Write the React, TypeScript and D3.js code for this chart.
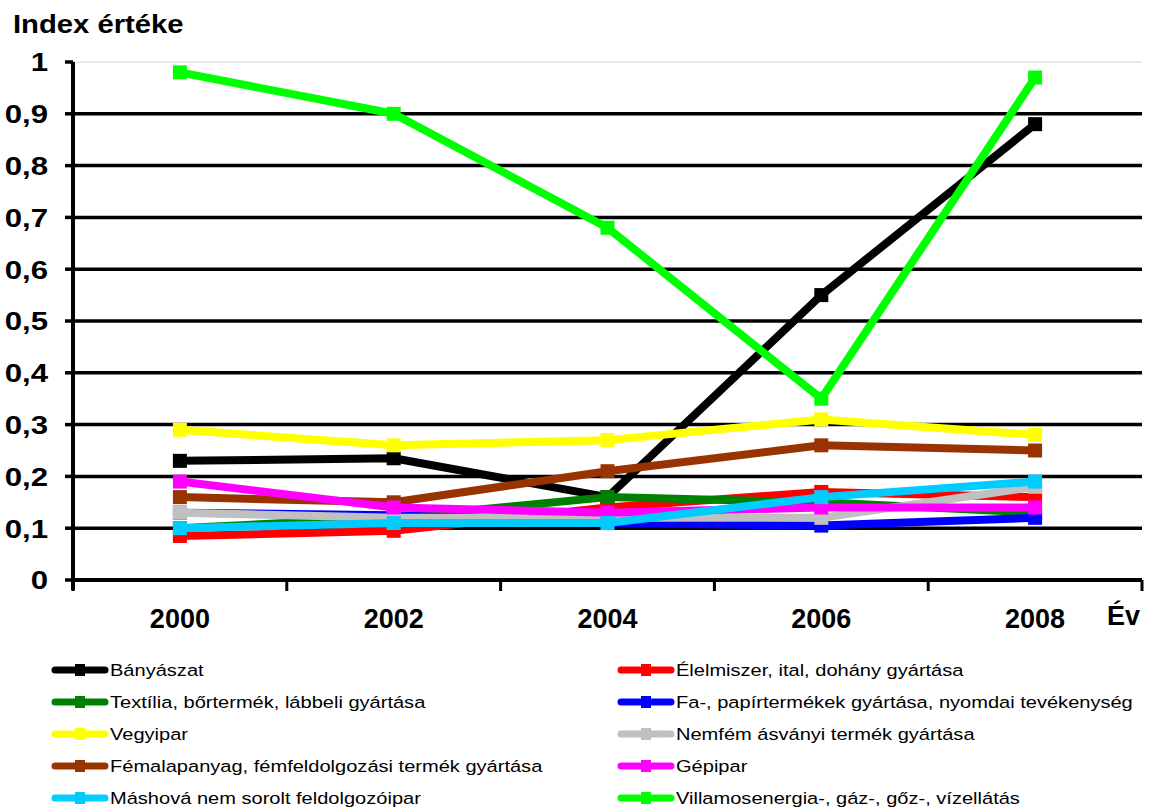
import React from "react";
import * as d3 from "d3";

const years = ["2000", "2002", "2004", "2006", "2008"];
const yTicks = [0, 0.1, 0.2, 0.3, 0.4, 0.5, 0.6, 0.7, 0.8, 0.9, 1];

const seriesNames = [
  "Bányászat",
  "Élelmiszer, ital, dohány gyártása",
  "Textília, bőrtermék, lábbeli gyártása",
  "Fa-, papírtermékek gyártása, nyomdai tevékenység",
  "Vegyipar",
  "Nemfém ásványi termék gyártása",
  "Fémalapanyag, fémfeldolgozási termék gyártása",
  "Gépipar",
  "Máshová nem sorolt feldolgozóipar",
  "Villamosenergia-, gáz-, gőz-, vízellátás",
];
const seriesColors = [
  "#000000", "#ff0000", "#008000", "#0000ff", "#ffff00",
  "#c0c0c0", "#993300", "#ff00ff", "#00ccff", "#00ff00",
];

const banyaszat = [0.23, 0.235, 0.16, 0.55, 0.88];
const elelmiszer = [0.085, 0.095, 0.14, 0.17, 0.16];
const textil = [0.1, 0.12, 0.16, 0.15, 0.13];
const fa = [0.13, 0.125, 0.11, 0.105, 0.12];
const vegyipar = [0.29, 0.26, 0.27, 0.31, 0.28];
const nemfem = [0.13, 0.12, 0.12, 0.12, 0.18];
const femalap = [0.16, 0.15, 0.21, 0.26, 0.25];
const gepipar = [0.19, 0.14, 0.13, 0.14, 0.14];
const mashova = [0.1, 0.11, 0.11, 0.16, 0.19];
const villamos = [0.98, 0.9, 0.68, 0.35, 0.97];

const seriesValues = [banyaszat, elelmiszer, textil, fa, vegyipar, nemfem, femalap, gepipar, mashova, villamos];

const W = 1155;
const H = 807;
const left = 73;
const right = 1142;
const top = 62;
const bottom = 580;
const FONT = "'Liberation Sans', Arial, sans-serif";

export default function App() {
  const x = d3.scaleBand<string>().domain(years).range([left, right]).padding(0);
  const y = d3.scaleLinear().domain([0, 1]).range([bottom, top]);
  const cx = (yr: string) => (x(yr) as number) + x.bandwidth() / 2;
  const line = d3
    .line<number>()
    .x((_, i) => cx(years[i]))
    .y((d) => y(d));

  const tickXs = [...years.map((yr) => x(yr) as number), right];

  return (
    <svg
      width={W}
      height={H}
      style={{ position: "absolute", left: 0, top: 0, background: "#fff" }}
      fontFamily={FONT}
    >
      <rect x={0} y={0} width={W} height={H} fill="#fff" />
      {/* gridlines */}
      {yTicks.map((t) =>
        t === 0 ? null : (
          <line
            key={"g" + t}
            x1={left}
            x2={right}
            y1={y(t)}
            y2={y(t)}
            stroke={t === 1 ? "#d4d4d4" : "#000"}
            strokeWidth={t === 1 ? 1 : 3.5}
          />
        )
      )}
      {/* y axis */}
      <line x1={left} x2={left} y1={top} y2={bottom + 10} stroke="#000" strokeWidth={4} />
      {yTicks.map((t) => (
        <g key={"yt" + t}>
          <line x1={left - 8} x2={left} y1={y(t)} y2={y(t)} stroke="#000" strokeWidth={3.5} />
          <text
            transform={`translate(48,${y(t)}) scale(1.2,1)`}
            dy="0.36em"
            textAnchor="end"
            fontSize={26}
            fontWeight="bold"
          >
            {String(t).replace(".", ",")}
          </text>
        </g>
      ))}
      {/* x axis */}
      <line x1={left} x2={right} y1={bottom} y2={bottom} stroke="#000" strokeWidth={4} />
      {tickXs.map((tx, i) => (
        <line key={"xt" + i} x1={tx} x2={tx} y1={bottom} y2={bottom + 11} stroke="#000" strokeWidth={3} />
      ))}
      {years.map((yr) => (
        <text
          key={"xl" + yr}
          x={cx(yr)}
          y={628}
          textAnchor="middle"
          fontSize={27}
          fontWeight="bold"
        >
          {yr}
        </text>
      ))}
      <text x={1107} y={625} fontSize={27} fontWeight="bold">
        Év
      </text>
      <text transform="translate(13,33) scale(1.17,1)" fontSize={25} fontWeight="bold">
        Index értéke
      </text>

      {/* series */}
      {seriesValues.map((vals, si) => (
        <g key={"s" + si}>
          <path
            d={line(vals) || ""}
            fill="none"
            stroke={seriesColors[si]}
            strokeWidth={8}
            strokeLinejoin="round"
          />
          {vals.map((v, i) => (
            <rect
              key={i}
              x={cx(years[i]) - 7}
              y={y(v) - 7}
              width={14}
              height={14}
              fill={seriesColors[si]}
            />
          ))}
        </g>
      ))}

      {/* legend */}
      {seriesNames.map((name, i) => {
        const col = i % 2;
        const row = Math.floor(i / 2);
        const lx = col === 0 ? 52 : 618;
        const ly = 670 + row * 32;
        return (
          <g key={"lg" + i}>
            <line
              x1={lx + 3}
              x2={lx + 53}
              y1={ly}
              y2={ly}
              stroke={seriesColors[i]}
              strokeWidth={7}
              strokeLinecap="round"
            />
            <rect x={lx + 23} y={ly - 6} width={10} height={12} fill={seriesColors[i]} />
            <text
              transform={`translate(${lx + 58},${ly}) scale(1.18,1)`}
              dy="0.36em"
              fontSize={17}
            >
              {name}
            </text>
          </g>
        );
      })}
    </svg>
  );
}
